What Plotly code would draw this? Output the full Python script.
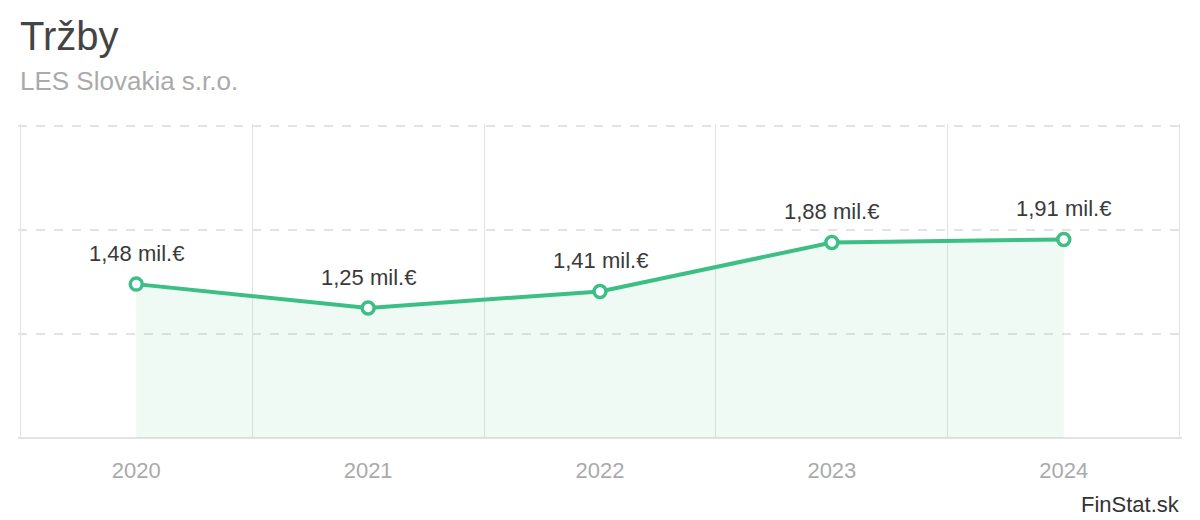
import plotly.graph_objects as go

years = ["2020", "2021", "2022", "2023", "2024"]
values = [1.48, 1.25, 1.41, 1.88, 1.91]
labels = ["1,48 mil.€", "1,25 mil.€", "1,41 mil.€", "1,88 mil.€", "1,91 mil.€"]
title = "Tržby"
subtitle = "LES Slovakia s.r.o."
source = "FinStat.sk"

GREEN = "#3cbf85"
FONT = "Liberation Sans, Arial, sans-serif"

fig = go.Figure()
fig.add_trace(go.Scatter(
    x=years, y=values, mode="lines+markers",
    line=dict(color=GREEN, width=4),
    marker=dict(size=12, color="white", line=dict(color=GREEN, width=3.5)),
    fill="tozeroy", fillcolor="rgba(60,191,133,0.08)",
    hoverinfo="skip", showlegend=False,
))

annotations = []
for i, (y, t) in enumerate(zip(values, labels)):
    annotations.append(dict(x=i, y=y, xref="x", yref="y", text=t, showarrow=False,
                            yshift=31, font=dict(size=22, color="#3a3a3a", family=FONT)))

annotations += [
    dict(text=title, xref="paper", yref="paper", x=0, y=1.279, xanchor="left",
         yanchor="middle", showarrow=False, font=dict(size=40, color="#444", family=FONT)),
    dict(text=subtitle, xref="paper", yref="paper", x=0, y=1.136, xanchor="left",
         yanchor="middle", showarrow=False, font=dict(size=26, color="#aaa", family=FONT)),
    dict(text=source, xref="paper", yref="paper", x=1, y=-0.212, xanchor="right",
         yanchor="middle", showarrow=False, font=dict(size=22, color="#333", family=FONT)),
]

fig.update_layout(
    width=1200, height=520,
    margin=dict(l=18, r=18, t=124, b=82),
    paper_bgcolor="white", plot_bgcolor="white",
    font=dict(family=FONT),
    annotations=annotations,
    xaxis=dict(type="category", range=[-0.51, 4.51], tickson="boundaries",
               showgrid=True, gridcolor="#e3e3e3", gridwidth=1,
               ticks="", showline=False, zeroline=False,
               tickfont=dict(size=22, color="#aaa"), ticklabelstandoff=17,
               fixedrange=True),
    yaxis=dict(range=[0, 3.02], dtick=1, showticklabels=False, showgrid=True,
               gridcolor="#e3e3e3", gridwidth=1.5, griddash="dash",
               zeroline=True, zerolinecolor="#e3e3e3", zerolinewidth=2,
               showline=False, fixedrange=True),
)

fig.write_html("out.html", config={"displayModeBar": False},
               post_script="document.body.style.margin='0';")
